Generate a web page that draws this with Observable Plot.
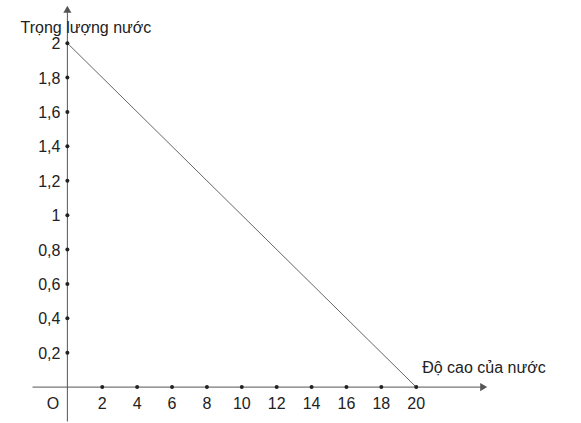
<!DOCTYPE html>
<html>
<head>
<meta charset="utf-8">
<script src="https://cdn.jsdelivr.net/npm/d3@7"></script>
<script src="https://cdn.jsdelivr.net/npm/@observablehq/plot@0.6"></script>
<style>
  html, body { margin: 0; padding: 0; background: #fff; }
  svg { display: block; }
</style>
</head>
<body>
<div id="chart"></div>
<script>
const xTicks = [2, 4, 6, 8, 10, 12, 14, 16, 18, 20];
const yTicks = [0.2, 0.4, 0.6, 0.8, 1, 1.2, 1.4, 1.6, 1.8, 2];
const yTickLabels = ["0,2", "0,4", "0,6", "0,8", "1", "1,2", "1,4", "1,6", "1,8", "2"];
const lineX = [0, 20];
const lineY = [2, 0];
const xAxisTitle = "Độ cao của nước";
const yAxisTitle = "Trọng lượng nước";
const originLabel = "O";

const xExtent = [-2, 23.8];
const yExtent = [-0.2, 2.19];

const font = "Liberation Sans, Arial, sans-serif";
const axisColor = "#555";
const fs = 16;

const linePts = lineX.map((x, i) => ({x, y: lineY[i]}));
const axes = [
  {x1: xExtent[0], y1: 0, x2: xExtent[1], y2: 0},
  {x1: 0, y1: yExtent[0], x2: 0, y2: yExtent[1]}
];

const chart = Plot.plot({
  width: 581,
  height: 423,
  margin: 0,
  style: {fontFamily: font, background: "#fff"},
  x: {domain: xExtent, range: [32, 482], axis: null},
  y: {domain: yExtent, range: [421, 10], axis: null},
  marks: [
    Plot.link(axes, {x1: "x1", y1: "y1", x2: "x2", y2: "y2", stroke: axisColor, strokeWidth: 1}),
    Plot.dot([{x: xExtent[1], y: 0}], {x: "x", y: "y", symbol: "triangle", r: 3, rotate: 90, fill: axisColor, stroke: "none"}),
    Plot.dot([{x: 0, y: yExtent[1]}], {x: "x", y: "y", symbol: "triangle", r: 3, fill: axisColor, stroke: "none"}),
    Plot.line(linePts, {x: "x", y: "y", stroke: "#666", strokeWidth: 1}),
    Plot.dot(xTicks, {x: d => d, y: () => 0, r: 2, fill: "#222", stroke: "none"}),
    Plot.dot(yTicks, {x: () => 0, y: d => d, r: 2, fill: "#222", stroke: "none"}),
    Plot.text(xTicks, {x: d => d, y: () => 0, dy: 17, text: d => String(d), fontSize: fs, fill: "#222"}),
    Plot.text(yTicks, {x: () => 0, y: d => d, dx: -7, dy: 1, text: (d, i) => yTickLabels[i], textAnchor: "end", fontSize: fs, fill: "#222"}),
    Plot.text([originLabel], {x: () => 0, y: () => 0, dx: -14.5, dy: 17, text: d => d, fontSize: fs, fill: "#222"}),
    Plot.text([xAxisTitle], {x: () => lineX[1], y: () => 0, dx: 6, dy: -19, text: d => d, textAnchor: "start", fontSize: fs, fill: "#222"}),
    Plot.text([yAxisTitle], {frameAnchor: "top-left", dx: 20, dy: 21, text: d => d, textAnchor: "start", fontSize: fs, fill: "#222"})
  ]
});
document.getElementById("chart").appendChild(chart);
</script>
</body>
</html>
